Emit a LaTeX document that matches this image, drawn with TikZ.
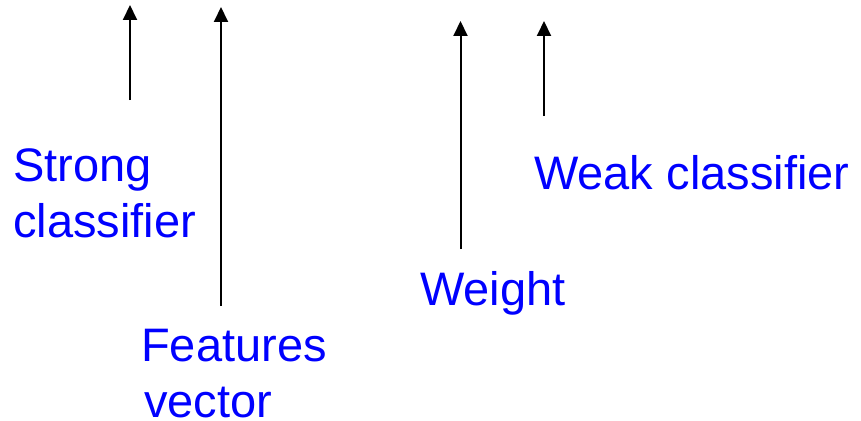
\documentclass[tikz,border=0pt]{standalone}
\usepackage{fontspec}
\setmainfont{Liberation Sans}
\usetikzlibrary{arrows.meta}
\definecolor{lblblue}{RGB}{0,0,255}
\begin{document}
\begin{tikzpicture}[x=1pt,y=-1pt,
  lbl/.style={anchor=base west,inner sep=0pt,text=lblblue,font=\fontsize{47}{56}\selectfont},
  uparrow/.style={draw=black,line width=2pt,-{Triangle[width=14pt,length=15pt]}}]
\useasboundingbox (0,0) rectangle (861,420);
\fill[white] (0,0) rectangle (861,420);
% labels
\node[lbl] (strong1) at (13,181) {Strong};
\node[lbl] (strong2) at (13,237) {classifier};
\node[lbl] (feat1) at (141,361) {Features};
\node[lbl] (feat2) at (144,417) {vector};
\node[lbl] (weight) at (420,305) {Weight};
\node[lbl] (weak) at (534,189) {Weak classifier};
% arrow ends
\coordinate (a1b) at (130,100);
\coordinate (a1t) at (130,5);
\coordinate (a2b) at (221,306);
\coordinate (a2t) at (221,7);
\coordinate (a3b) at (460.5,249);
\coordinate (a3t) at (460.5,21);
\coordinate (a4b) at (544,116);
\coordinate (a4t) at (544,21);
\draw[uparrow] (a1b) -- (a1t);
\draw[uparrow] (a2b) -- (a2t);
\draw[uparrow] (a3b) -- (a3t);
\draw[uparrow] (a4b) -- (a4t);
\end{tikzpicture}
\end{document}
